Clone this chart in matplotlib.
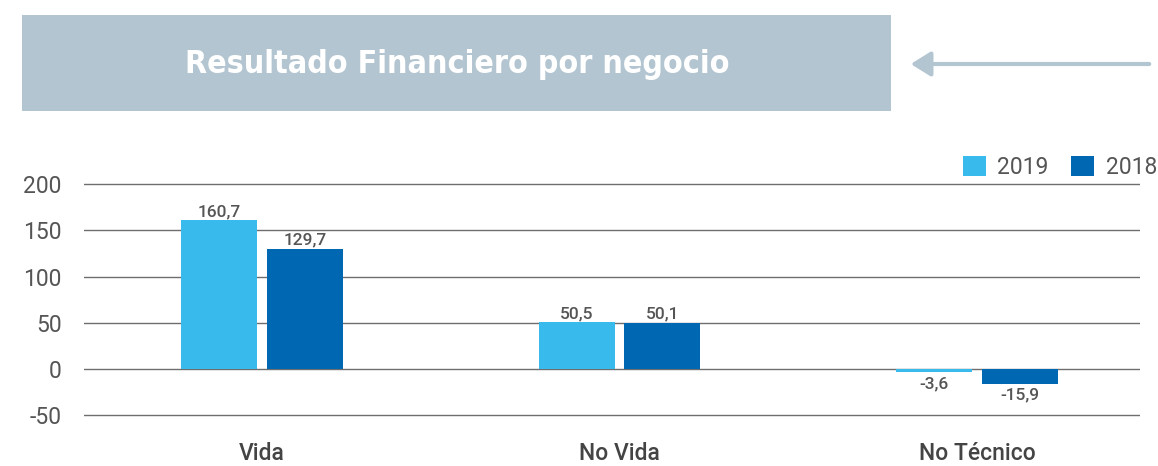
import numpy as np
import matplotlib
matplotlib.use("Agg")
import matplotlib.pyplot as plt
from matplotlib.patches import Rectangle, FancyArrowPatch

# data
categories = ["Vida", "No Vida", "No Técnico"]
series_names = ["2019", "2018"]
values_2019 = [160.7, 50.5, -3.6]
values_2018 = [129.7, 50.1, -15.9]
yticks = [-50, 0, 50, 100, 150, 200]
title = "Resultado Financiero por negocio"

c2019 = "#38bbec"
c2018 = "#0068b3"
box_col = "#b3c5d1"
txt_col = "#555555"

plt.rcParams['font.family'] = ['Roboto', 'DejaVu Sans']

W, H = 1158, 466
fig = plt.figure(figsize=(W / 100, H / 100), dpi=100)

# title box + arrow
fig.add_artist(Rectangle((22 / W, 1 - 111 / H), (891 - 22) / W, 96 / H,
                         transform=fig.transFigure, color=box_col, lw=0))
fig.text(457 / W, 1 - 64 / H, title, color="white", fontsize=23,
         fontweight="bold", fontstretch="condensed", ha="center", va="center",
         family=["DejaVu Sans"])
fig.add_artist(FancyArrowPatch((1152 / W, 1 - 64 / H), (908 / W, 1 - 64 / H),
                               transform=fig.transFigure, arrowstyle="-|>,head_length=8,head_width=5",
                               color=box_col, lw=3, mutation_scale=1.5))

# axes placement in pixels
y0_px = 369
ppu = 46.25 / 50
ylo, yhi = -55, 205
top_px = y0_px - yhi * ppu
bot_px = y0_px - ylo * ppu
ax = fig.add_axes([84 / W, 1 - bot_px / H, (1140 - 84) / W, (bot_px - top_px) / H])

x = np.arange(len(categories))
bw = 0.2126
off = 0.12
b1 = ax.bar(x - off, values_2019, bw, color=c2019, label=series_names[0], zorder=3)
b2 = ax.bar(x + off, values_2018, bw, color=c2018, label=series_names[1], zorder=3)

for bars, vals in [(b1, values_2019), (b2, values_2018)]:
    for b, v in zip(bars, vals):
        lbl = f"{v:.1f}".replace(".", ",")
        if v >= 0:
            ax.annotate(lbl, (b.get_x() + b.get_width() / 2, v), xytext=(0, 1),
                        textcoords="offset points", ha="center", va="bottom",
                        fontsize=12.5, color=txt_col, fontweight="medium", zorder=4)
        else:
            ax.annotate(lbl, (b.get_x() + b.get_width() / 2, v), xytext=(0, -3),
                        textcoords="offset points", ha="center", va="top",
                        fontsize=12.5, color=txt_col, fontweight="medium", zorder=4)

for t in yticks:
    ax.axhline(t, color="#6e6e6e", lw=1, zorder=1)

ax.set_xlim(-0.498, 2.456)
ax.set_ylim(ylo, yhi)
ax.set_yticks(yticks)
ax.set_yticklabels([str(t) for t in yticks], fontsize=16.5, color=txt_col)
ax.set_xticks(x)
ax.set_xticklabels(categories, fontsize=16.5, color="#444444", fontweight="medium")
ax.tick_params(axis="both", length=0)
ax.tick_params(axis="y", pad=16)
ax.tick_params(axis="x", pad=16)
for s in ax.spines.values():
    s.set_visible(False)

ax.legend(loc="lower right", bbox_to_anchor=(1157 / W, 1 - 179 / H),
          bbox_transform=fig.transFigure, ncol=2, frameon=False,
          fontsize=16.5, handlelength=1.0, handleheight=1.0, handletextpad=0.5,
          columnspacing=1.0, labelcolor=txt_col, borderpad=0, borderaxespad=0)

fig.savefig("out.png", dpi=100)
